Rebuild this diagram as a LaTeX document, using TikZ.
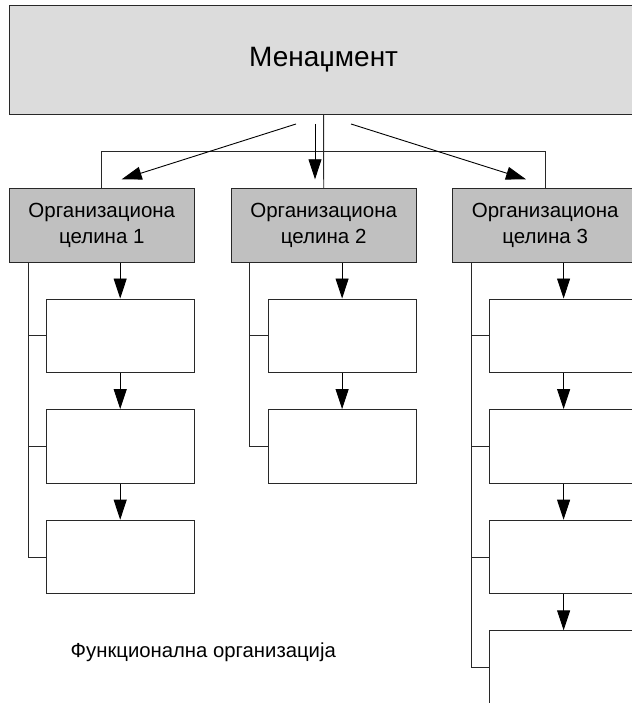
\documentclass[tikz,border=0pt]{standalone}
\usepackage{fontspec}
\setmainfont{Liberation Sans}
\usetikzlibrary{arrows.meta}
\definecolor{linec}{RGB}{40,40,40}
\definecolor{topfill}{RGB}{220,220,220}
\definecolor{unitfill}{RGB}{192,192,192}
\begin{document}
\begin{tikzpicture}[x=1pt,y=-1pt,
  line/.style={draw=linec, line width=0.9pt},
  arr/.style={draw=black, line width=0.9pt, -{Triangle[length=20pt,width=13pt]}},
  topbox/.style={draw=linec, line width=0.9pt, fill=topfill, minimum width=628.7pt, minimum height=109.7pt, inner sep=0pt, font=\fontsize{28}{34}\selectfont},
  unitbox/.style={draw=linec, line width=0.9pt, fill=unitfill, minimum width=185pt, minimum height=74pt, inner sep=0pt, align=center, font=\fontsize{20.5}{25.3}\selectfont},
  subbox/.style={draw=linec, line width=0.9pt, fill=white, minimum width=148.3pt, minimum height=73.7pt, inner sep=0pt},
  caption/.style={font=\fontsize{20.3}{24}\selectfont, anchor=base}]
\useasboundingbox (0,0) rectangle (631,703);
\fill[white] (0,0) rectangle (631,703);

% top box
\node[topbox] (mgmt) at (323.65,59.85) {Менаџмент};

% organisational units
\node[unitbox] (u1) at (101.8,225.3) {Организациона\\целина 1};
\node[unitbox] (u2) at (323.7,225.3) {Организациона\\целина 2};
\node[unitbox] (u3) at (545.2,225.3) {Организациона\\целина 3};

% sub boxes column 1
\node[subbox] (a1) at (120.2,335.8) {};
\node[subbox] (a2) at (120.2,446.4) {};
\node[subbox] (a3) at (120.2,557.0) {};
% column 2
\node[subbox] (b1) at (342.1,335.8) {};
\node[subbox] (b2) at (342.1,446.4) {};
% column 3
\node[subbox] (c1) at (563.6,335.8) {};
\node[subbox] (c2) at (563.6,446.4) {};
\node[subbox] (c3) at (563.6,557.0) {};
\node[subbox] (c4) at (563.6,667.6) {};

% caption
\node[caption] (cap) at (203.3,657.3) {Функционална организација};

% connectors from management
\coordinate (hbar) at (0,151.7);
\draw[line] (mgmt.south) -- (u2.north);
\draw[line] (u1.north) -- (u1.north |- hbar) -- (u3.north |- hbar) -- (u3.north);

\coordinate (s1) at (296,124);   \coordinate (t1) at (121.7,179.3);
\coordinate (s2) at (315,124);   \coordinate (t2) at (315,179.3);
\coordinate (s3) at (351,124);   \coordinate (t3) at (526,179.3);
\draw[arr] (s1) -- (t1);
\draw[arr] (s2) -- (t2);
\draw[arr] (s3) -- (t3);

% column side lines
\coordinate (k1) at ([xshift=19.5pt]u1.south west);
\coordinate (k2) at ([xshift=18.8pt]u2.south west);
\coordinate (k3) at ([xshift=18.8pt]u3.south west);
\draw[line] (k1) |- (a3.west);
\draw[line] (a1.west) -- (a1.west -| k1);
\draw[line] (a2.west) -- (a2.west -| k1);
\draw[line] (k2) |- (b2.west);
\draw[line] (b1.west) -- (b1.west -| k2);
\draw[line] (k3) |- (c4.west);
\draw[line] (c1.west) -- (c1.west -| k3);
\draw[line] (c2.west) -- (c2.west -| k3);
\draw[line] (c3.west) -- (c3.west -| k3);

% down arrows
\draw[arr] (u1.south -| a1.north) -- (a1.north);
\draw[arr] (a1.south) -- (a2.north);
\draw[arr] (a2.south) -- (a3.north);
\draw[arr] (u2.south -| b1.north) -- (b1.north);
\draw[arr] (b1.south) -- (b2.north);
\draw[arr] (u3.south -| c1.north) -- (c1.north);
\draw[arr] (c1.south) -- (c2.north);
\draw[arr] (c2.south) -- (c3.north);
\draw[arr] (c3.south) -- (c4.north);
\end{tikzpicture}
\end{document}
